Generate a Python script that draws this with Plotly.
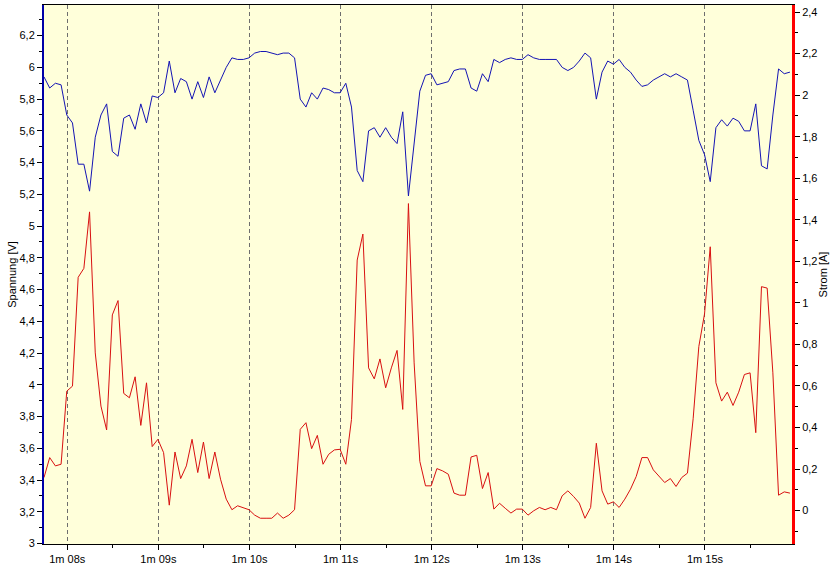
import plotly.graph_objects as go

# Sampling of the recording (seconds)
t_start = 67.745
t_step = 0.0625

# Spannung [V] (blue, left axis)
voltage = [
    5.94, 5.87, 5.90, 5.89, 5.70, 5.65, 5.39, 5.39, 5.22, 5.56,
    5.70, 5.77, 5.47, 5.44, 5.68, 5.70, 5.61, 5.77, 5.65, 5.82,
    5.81, 5.84, 6.04, 5.84, 5.93, 5.91, 5.80, 5.91, 5.81, 5.94,
    5.84, 5.92, 6.00, 6.06, 6.05, 6.05, 6.06, 6.09, 6.10, 6.10,
    6.09, 6.08, 6.09, 6.09, 6.06, 5.80, 5.75, 5.84, 5.80, 5.87,
    5.86, 5.84, 5.84, 5.90, 5.75, 5.35, 5.28, 5.60, 5.62, 5.56,
    5.62, 5.56, 5.52, 5.72, 5.19, 5.54, 5.85, 5.95, 5.96, 5.89,
    5.90, 5.91, 5.98, 5.99, 5.99, 5.87, 5.85, 5.96, 5.91, 6.05,
    6.03, 6.05, 6.06, 6.05, 6.05, 6.08, 6.06, 6.05, 6.05, 6.05,
    6.05, 6.00, 5.98, 6.00, 6.04, 6.09, 6.06, 5.80, 5.97, 6.04,
    6.02, 6.05, 6.00, 5.97, 5.92, 5.88, 5.89, 5.92, 5.94, 5.96,
    5.94, 5.96, 5.94, 5.92, 5.73, 5.54, 5.45, 5.28, 5.62, 5.67,
    5.63, 5.68, 5.66, 5.60, 5.60, 5.77, 5.38, 5.36, 5.70, 5.99,
    5.96, 5.97,
]

# Strom [A] (red, right axis)
current = [
    0.159, 0.255, 0.215, 0.223, 0.575, 0.599, 1.123, 1.166, 1.438, 0.759,
    0.503, 0.388, 0.942, 1.011, 0.564, 0.543, 0.644, 0.410, 0.615, 0.308,
    0.343, 0.279, 0.026, 0.282, 0.154, 0.215, 0.343, 0.183, 0.330, 0.154,
    0.282, 0.151, 0.055, 0.004, 0.023, 0.015, 0.004, -0.022, -0.037, -0.037,
    -0.037, -0.012, -0.037, -0.022, 0.004, 0.391, 0.423, 0.298, 0.362, 0.223,
    0.271, 0.292, 0.295, 0.223, 0.439, 1.206, 1.331, 0.687, 0.634, 0.730,
    0.591, 0.687, 0.771, 0.487, 1.478, 0.711, 0.237, 0.119, 0.119, 0.202,
    0.191, 0.175, 0.084, 0.074, 0.074, 0.258, 0.266, 0.106, 0.183, 0.007,
    0.035, 0.011, -0.012, 0.007, 0.007, -0.022, -0.001, 0.015, 0.004, 0.015,
    0.004, 0.071, 0.095, 0.068, 0.036, -0.037, 0.015, 0.324, 0.095, 0.031,
    0.042, 0.015, 0.055, 0.103, 0.164, 0.255, 0.255, 0.196, 0.164, 0.135,
    0.154, 0.116, 0.159, 0.180, 0.442, 0.790, 0.947, 1.270, 0.615, 0.527,
    0.570, 0.506, 0.570, 0.655, 0.663, 0.375, 1.078, 1.071, 0.663, 0.074,
    0.090, 0.084,
]

time_s = [round(t_start + i * t_step, 4) for i in range(len(voltage))]

x_tick_vals = [68, 69, 70, 71, 72, 73, 74, 75]
x_tick_text = ["1m 08s", "1m 09s", "1m 10s", "1m 11s", "1m 12s", "1m 13s", "1m 14s", "1m 15s"]
x_minor_vals = [67.5, 68.5, 69.5, 70.5, 71.5, 72.5, 73.5, 74.5, 75.5]

fig = go.Figure()
fig.add_trace(go.Scatter(x=time_s, y=voltage, mode="lines",
                         line=dict(color="#1414B4", width=1), yaxis="y",
                         name="Spannung [V]"))
fig.add_trace(go.Scatter(x=time_s, y=current, mode="lines",
                         line=dict(color="#D81010", width=1), yaxis="y2",
                         name="Strom [A]"))

fig.update_layout(
    width=834, height=569,
    margin=dict(l=44, r=42, t=4, b=24),
    paper_bgcolor="white",
    plot_bgcolor="#FFFFDA",
    separators=",.",
    showlegend=False,
    font=dict(family="Liberation Sans, Arial, sans-serif", size=11, color="black"),
    xaxis=dict(
        range=[67.745, 75.955],
        tickmode="array", tickvals=x_tick_vals, ticktext=x_tick_text,
        showgrid=True, gridcolor="#6E6E6E", griddash="4px,3px", gridwidth=1,
        showline=True, linecolor="black", linewidth=1, mirror=True,
        ticks="outside", ticklen=5, tickcolor="black",
        minor=dict(tickmode="array", tickvals=x_minor_vals, ticks="outside",
                   ticklen=3, tickcolor="black", showgrid=False),
        zeroline=False,
    ),
    yaxis=dict(
        range=[2.997, 6.393],
        tickmode="linear", tick0=3, dtick=0.2,
        ticks="outside", ticklen=5, tickcolor="black",
        minor=dict(tick0=3, dtick=0.1, ticks="outside", ticklen=3,
                   tickcolor="black", showgrid=False),
        showline=True, linecolor="#0000A8", linewidth=2,
        showgrid=False, zeroline=False,
        title=dict(text="Spannung [V]", standoff=1, font=dict(size=11)),
    ),
    yaxis2=dict(
        range=[-0.161, 2.434], overlaying="y", side="right",
        tickmode="linear", tick0=0, dtick=0.2,
        ticks="outside", ticklen=5, tickcolor="black",
        minor=dict(tick0=0, dtick=0.1, ticks="outside", ticklen=3,
                   tickcolor="black", showgrid=False),
        showline=True, linecolor="#FF0000", linewidth=3,
        showgrid=False, zeroline=False,
        title=dict(text="Strom [A]", standoff=2, font=dict(size=11)),
    ),
)

fig.write_html("out.html")
